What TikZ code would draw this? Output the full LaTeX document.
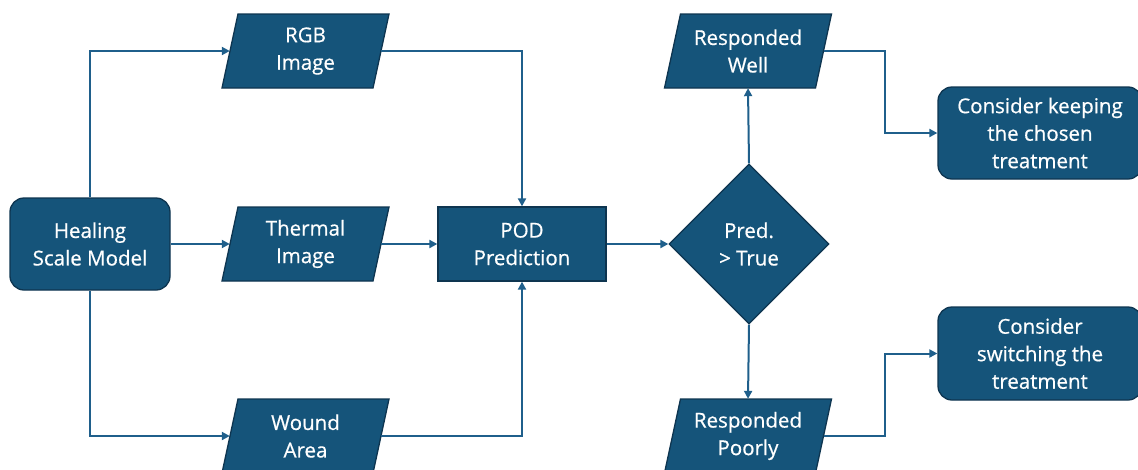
\documentclass[tikz,border=0pt]{standalone}
\usepackage{fontspec}
\setmainfont{Open Sans}[FakeBold=0.6]
\usetikzlibrary{shapes.geometric,arrows.meta,calc}
\definecolor{boxfill}{HTML}{15547A}
\definecolor{boxedge}{HTML}{0E3550}
\definecolor{linec}{HTML}{1F5F8B}
\tikzset{
  base/.style={text=white, font=\fontsize{20.5}{27.5}\selectfont, align=center, inner sep=0pt},
  rbox/.style={base, fill=boxfill, draw=boxedge, line width=1.3pt, rounded corners=14pt},
  sbox/.style={base, fill=boxfill, draw=boxedge, line width=1.3pt},
  dia/.style={base, fill=boxfill, draw=boxedge, line width=1.3pt, diamond, aspect=1},
  para/.style={base, minimum width=151pt, minimum height=74pt},
  paraface/.style={fill=boxfill, draw=boxedge, line width=1.3pt},
  conn/.style={draw=linec, line width=2pt, -{Triangle[length=8pt,width=8pt]}},
}
\newcommand{\parashape}[2]{%
  \path[paraface] (#1-75.5+8,#2-37) -- (#1+75.5+8,#2-37) -- (#1+75.5-8,#2+37) -- (#1-75.5-8,#2+37) -- cycle;}
\begin{document}
\begin{tikzpicture}[x=1pt,y=-1pt]
\useasboundingbox (0,0) rectangle (1138,469);
\node[rbox, minimum width=160pt, minimum height=92pt] (heal) at (90,244) {Healing\\Scale Model};
\parashape{305.5}{51}
\node[para] (rgb) at (305.5,51) {RGB\\Image};
\parashape{305.5}{244}
\node[para] (therm) at (305.5,244) {Thermal\\Image};
\parashape{305.5}{436}
\node[para] (wound) at (305.5,436) {Wound\\Area};
\node[sbox, minimum width=168pt, minimum height=74pt] (pod) at (522,244) {POD\\Prediction};
\node[dia, minimum width=160pt, minimum height=160pt] (dec) at (749,244) {Pred.\\> True};
\parashape{748}{51}
\node[para] (well) at (748,51) {Responded\\Well};
\parashape{748}{436}
\node[para] (poor) at (748,436) {Responded\\Poorly};
\node[rbox, minimum width=204pt, minimum height=92pt] (keep) at (1040,133) {Consider keeping\\the chosen\\treatment};
\node[rbox, minimum width=204pt, minimum height=93pt] (switch) at (1040,353.5) {Consider\\switching the\\treatment};

\draw[conn] (heal.north) |- (rgb.west);
\draw[conn] (heal.east) -- (therm.west);
\draw[conn] (heal.south) |- (wound.west);
\draw[conn] (rgb.east) -| (pod.north);
\draw[conn] (therm.east) -- (pod.west);
\draw[conn] (wound.east) -| (pod.south);
\draw[conn] (pod.east) -- (dec.west);
\draw[conn] (dec.north) -- (well.south);
\draw[conn] (dec.south) -- (poor.north);
\draw[conn] (well.east) -| (885,133) -- (keep.west);
\draw[conn] (poor.east) -| (885,353.5) -- (switch.west);
\end{tikzpicture}
\end{document}
